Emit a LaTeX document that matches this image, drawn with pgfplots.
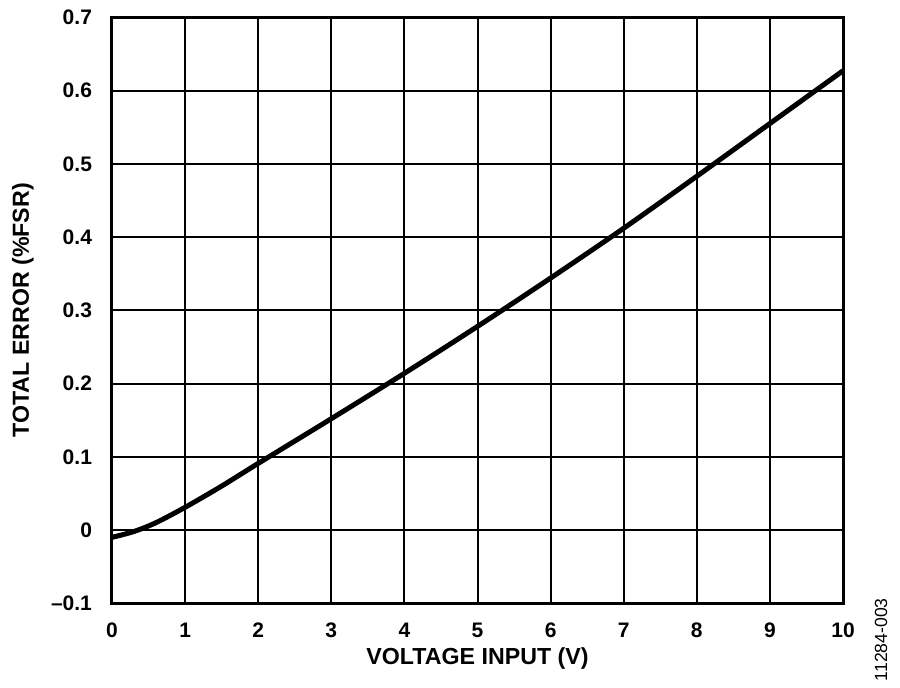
\documentclass[border=0pt]{standalone}
\usepackage{pgfplots}
\pgfplotsset{compat=1.18}
\usepackage{fontspec}
\setmainfont{Liberation Sans}
\usetikzlibrary{calc}
\begin{document}
\begin{tikzpicture}
\begin{axis}[
  name=ax,
  scale only axis,
  width=365.5pt, height=293pt,
  xmin=0, xmax=10, ymin=-0.1, ymax=0.7,
  xtick={0,1,...,10},
  ytick={-0.1,0,0.1,0.2,0.3,0.4,0.5,0.6,0.7},
  xticklabels={0,1,2,3,4,5,6,7,8,9,10},
  yticklabels={–0.1,0,0.1,0.2,0.3,0.4,0.5,0.6,0.7},
  major tick length=0pt,
  tick style={draw=none},
  grid=major,
  grid style={black, line width=1pt},
  axis line style={black, line width=1.5pt},
  tick label style={font=\bfseries\fontsize{10.5}{12}\selectfont},
  yticklabel style={xshift=-6.5pt},
  xticklabel style={yshift=-6.4pt},
  xlabel={VOLTAGE INPUT (V)},
  ylabel={TOTAL ERROR (\%FSR)},
  label style={font=\bfseries\fontsize{11.6}{13}\selectfont},
  xlabel style={at={(axis description cs:0.5,0)}, anchor=center, yshift=-27.5pt},
  ylabel style={at={(axis description cs:0,0.5)}, anchor=center, rotate=0, yshift=44.5pt},
]
\addplot[black, line width=2.5pt, smooth] coordinates {
  (0,-0.010) (0.3,-0.002) (0.6,0.010) (1,0.031) (1.5,0.060) (2,0.091) (3,0.152) (4,0.214)
  (5,0.278) (6,0.344) (7,0.412) (8,0.483) (9,0.555) (10,0.627)
};
\end{axis}
\node[rotate=90, font=\fontsize{8.8}{10}\selectfont] at ([shift={(19pt,-18.25pt)}]ax.south east) {11284-003};
\path[use as bounding box] ($(ax.south west)+(-56pt,-41.25pt)$) rectangle ($(ax.north east)+(28.5pt,8.65pt)$);
\end{tikzpicture}
\end{document}
